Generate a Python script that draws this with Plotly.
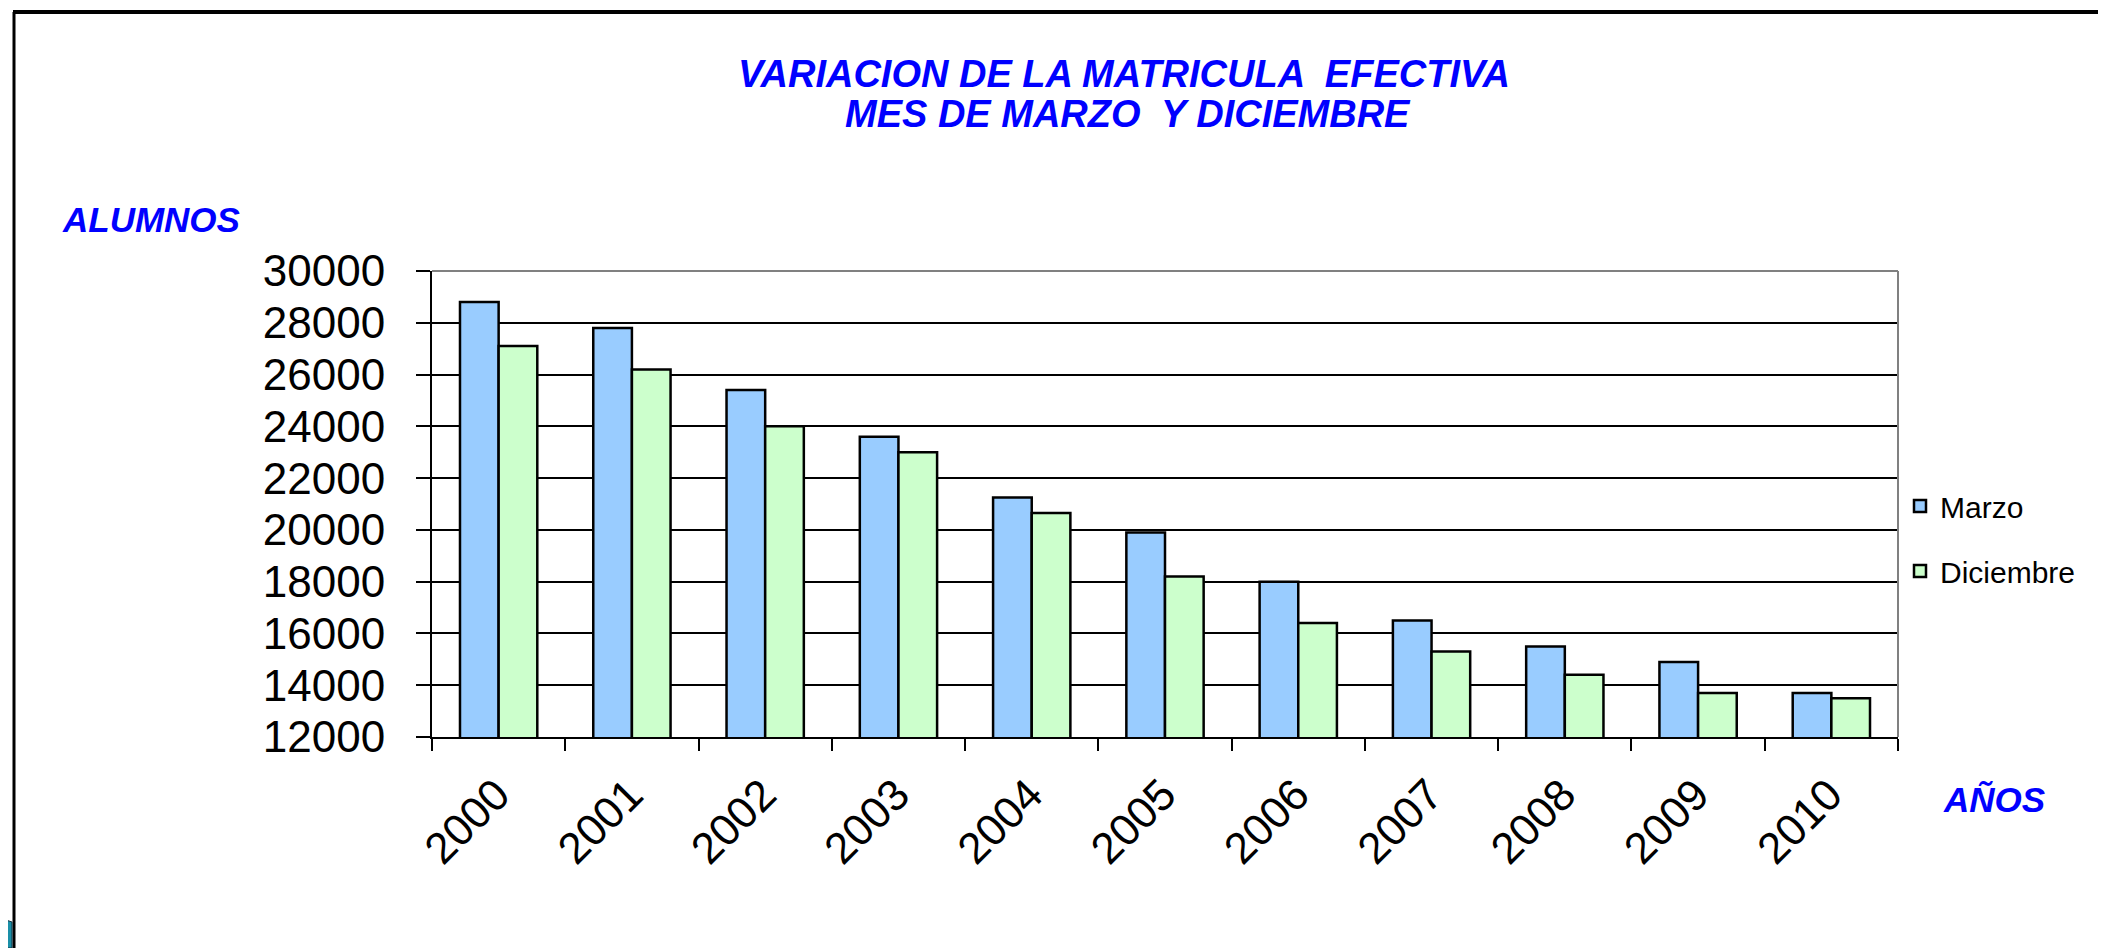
import plotly.graph_objects as go

# ---- data ----
years = ["2000", "2001", "2002", "2003", "2004", "2005", "2006", "2007", "2008", "2009", "2010"]
marzo = [28800, 27800, 25400, 23600, 21250, 19900, 18000, 16500, 15500, 14900, 13700]
diciembre = [27100, 26200, 24000, 23000, 20650, 18200, 16400, 15300, 14400, 13700, 13500]
series_names = ["Marzo", "Diciembre"]
title_lines = ["VARIACION DE LA MATRICULA  EFECTIVA", "MES DE MARZO  Y DICIEMBRE"]
y_label = "ALUMNOS"
x_label = "AÑOS"

OFF = 8  # default page margin of the html body
SW, SH = 2106, 948          # screen size
W, H = SW - OFF, SH - OFF   # figure size
# plot area in screen pixels
PX0, PX1, PY0, PY1 = 432, 1898, 271, 737
L, T = PX0 - OFF, PY0 - OFF
pw, ph = PX1 - PX0, PY1 - PY0
R, B = W - L - pw, H - T - ph

def px_x(x):
    return (x - PX0) / pw

def px_y(y):
    return (PY1 - y) / ph

FONT = "Arial, Liberation Sans, sans-serif"
BLUE = "#0000FF"

fig = go.Figure()
fig.add_trace(go.Bar(x=years, y=marzo, name=series_names[0], legendgroup="a",
                     marker=dict(color="#99CCFF", line=dict(color="black", width=2.5))))
fig.add_trace(go.Bar(x=years, y=diciembre, name=series_names[1], legendgroup="b",
                     marker=dict(color="#CCFFCC", line=dict(color="black", width=2.5))))

fig.update_layout(
    width=W, height=H,
    margin=dict(l=L, r=R, t=T, b=B, autoexpand=False),
    paper_bgcolor="white", plot_bgcolor="white",
    barmode="group", bargap=0.42, bargroupgap=0,
    font=dict(family=FONT, color="black"),
    legend=dict(x=px_x(1900), y=px_y(480), xanchor="left", yanchor="top",
                font=dict(size=30, family=FONT), tracegroupgap=23,
                bgcolor="rgba(0,0,0,0)"),
    showlegend=True,
)

fig.update_xaxes(
    type="category", tickangle=-45, tickfont=dict(size=44, family=FONT),
    showline=True, linecolor="black", linewidth=2, mirror=False,
    ticks="outside", ticklen=12, tickwidth=2, tickcolor="black",
    tickson="boundaries", showgrid=False, ticklabelstandoff=12, ticklabelshift=-2,
    automargin=False,
)
fig.update_yaxes(
    range=[12000, 30000], dtick=2000, tickformat="d",
    tickfont=dict(size=44, family=FONT),
    showline=True, linecolor="black", linewidth=2,
    ticks="outside", ticklen=14, tickwidth=2, tickcolor="black",
    showgrid=True, gridcolor="black", gridwidth=2, ticklabelstandoff=22,
    zeroline=False, automargin=False,
)

# plot-area top and right border (grey)
fig.add_shape(type="line", xref="paper", yref="paper", x0=0, x1=1, y0=1, y1=1,
              line=dict(color="#808080", width=2))
fig.add_shape(type="line", xref="paper", yref="paper", x0=1, x1=1, y0=0, y1=1,
              line=dict(color="#808080", width=2))

# slide frame
fig.add_shape(type="line", xref="paper", yref="paper", x0=px_x(13), x1=px_x(SW + 5),
              y0=px_y(12), y1=px_y(12), line=dict(color="black", width=4))
fig.add_shape(type="line", xref="paper", yref="paper", x0=px_x(14), x1=px_x(14),
              y0=px_y(12), y1=px_y(SH + 5), line=dict(color="black", width=3))
# small teal corner decoration
fig.add_shape(type="path", xref="paper", yref="paper",
              path=(f"M {px_x(0)},{px_y(918)} L {px_x(12)},{px_y(922)} "
                    f"L {px_x(12)},{px_y(SH)} L {px_x(0)},{px_y(SH)} Z"),
              fillcolor="#1A8FA8", line=dict(color="#103040", width=1))

# title, two lines
for txt, cx, cy in [(title_lines[0], 1124, 74), (title_lines[1], 1128, 114)]:
    fig.add_annotation(text=f"<b><i>{txt}</i></b>", xref="paper", yref="paper",
                       x=px_x(cx), y=px_y(cy), xanchor="center", yanchor="middle",
                       showarrow=False, font=dict(size=38, color=BLUE, family=FONT))

fig.add_annotation(text=f"<b><i>{y_label}</i></b>", xref="paper", yref="paper",
                   x=px_x(60), y=px_y(219), xanchor="left", yanchor="middle",
                   showarrow=False, font=dict(size=35, color=BLUE, family=FONT))
fig.add_annotation(text=f"<b><i>{x_label}</i></b>", xref="paper", yref="paper",
                   x=px_x(1994), y=px_y(799), xanchor="center", yanchor="middle",
                   showarrow=False, font=dict(size=35, color=BLUE, family=FONT))

fig.write_html("out.html")
